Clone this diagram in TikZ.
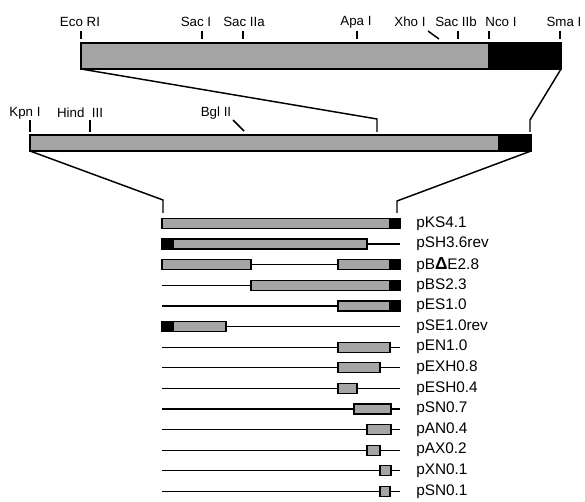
\documentclass[tikz,border=0pt]{standalone}
\usepackage{fontspec}
\setmainfont{Liberation Sans}
\usepackage{tikz}
\usepackage{xcolor}
\definecolor{stipple}{RGB}{165,165,165}

\tikzset{
  mapbar/.style={draw=black, line width=1.1pt, fill=stipple},
  blackend/.style={draw=black, line width=1.1pt, fill=black},
  insert/.style={draw=black, line width=0.9pt, fill=stipple},
  vector/.style={line width=0.9pt},
  zoomline/.style={line width=1.1pt},
  sitetick/.style={line width=1.1pt},
  sitelabel/.style={inner sep=0.75pt, font=\fontsize{10}{12}\selectfont},
  clonelabel/.style={anchor=west, inner sep=0.75pt, font=\fontsize{11.5}{13}\selectfont}
}

\begin{document}
\begin{tikzpicture}[x=0.75pt,y=0.75pt,yscale=-1,xscale=1]
\useasboundingbox (0,0) rectangle (585,502);

%Shape: Rectangle [top map]
\draw [mapbar] (81,43) rectangle (489,69) ;
\draw [blackend] (489,43) rectangle (561,69) ;
\coordinate (top-sw) at (81,69);
\coordinate (top-se) at (561,69);

% Text Node
\draw (80,22) node [sitelabel] (ecori) {Eco RI};
\draw [sitetick] (81,31) -- (81,39) ;
% Text Node
\draw (196,22) node [sitelabel] (saci) {Sac I};
\draw [sitetick] (202,31) -- (202,39) ;
% Text Node
\draw (244,22) node [sitelabel] (sacIIa) {Sac IIa};
\draw [sitetick] (243,31) -- (243,39) ;
% Text Node
\draw (356,22) node [sitelabel] (apai) {Apa I};
\draw [sitetick] (357,31) -- (357,39) ;
% Text Node
\draw (410,22) node [sitelabel] (xhoi) {Xho I};
\draw [sitetick] (428,31) -- (439,39) ;
% Text Node
\draw (456,22) node [sitelabel] (sacIIb) {Sac IIb};
\draw [sitetick] (458,31) -- (458,39) ;
% Text Node
\draw (501,22) node [sitelabel] (ncoi) {Nco I};
\draw [sitetick] (489,31) -- (489,39) ;
% Text Node
\draw (564,22) node [sitelabel] (smai) {Sma I};
\draw [sitetick] (560,31) -- (560,39) ;

%Shape: Rectangle [middle map]
\draw [mapbar] (30,135) rectangle (499,151) ;
\draw [blackend] (499,135) rectangle (531,151) ;
\coordinate (mid-nw) at (377,119);
\coordinate (mid-ne) at (530,120);
\coordinate (mid-sw) at (30,151);
\coordinate (mid-se) at (531,151);

% Text Node
\draw (25,113) node [sitelabel] (kpni) {Kpn I};
\draw [sitetick] (30,120) -- (30,132) ;
% Text Node
\draw (80,113) node [sitelabel] (hindIII) {Hind\ \ III};
\draw [sitetick] (90,120) -- (90,132) ;
% Text Node
\draw (216,113) node [sitelabel] (bglII) {Bgl II};
\draw [sitetick] (233,120) -- (244,131) ;

%Straight Lines [top map to middle map]
\draw [zoomline] (top-sw) -- (mid-nw) -- ++(0,13) ;
\draw [zoomline] (top-se) -- (mid-ne) -- ++(0,12) ;

%Straight Lines [middle map to clones]
\coordinate (cl-w) at (163,200);
\coordinate (cl-e) at (397,201);
\draw [zoomline] (mid-sw) -- (cl-w) -- ++(0,13) ;
\draw [zoomline] (mid-se) -- (cl-e) -- ++(0,12) ;

% pKS4.1
\draw [insert] (162,218.5) rectangle (390,228.5) ;
\draw [blackend] (390,218.5) rectangle (400,228.5) ;
\draw (415,223.5) node [clonelabel] (pKS) {pKS4.1};
% pSH3.6rev
\draw [vector] (367,244.1) -- (400,244.1) ;
\draw [blackend] (162,239.1) rectangle (173,249.1) ;
\draw [insert] (173,239.1) rectangle (367,249.1) ;
\draw (415,244.1) node [clonelabel] (pSH) {pSH3.6rev};
% pBdE2.8
\draw [vector] (251,264.7) -- (338,264.7) ;
\draw [insert] (162,259.7) rectangle (251,269.7) ;
\draw [insert] (338,259.7) rectangle (390,269.7) ;
\draw [blackend] (390,259.7) rectangle (400,269.7) ;
\draw (415,264.7) node [clonelabel] (pBdE) {pB{\fontsize{13}{13}\selectfont\textbf{Δ}}E2.8};
% pBS2.3
\draw [vector] (162,285.3) -- (251,285.3) ;
\draw [insert] (251,280.3) rectangle (390,290.3) ;
\draw [blackend] (390,280.3) rectangle (400,290.3) ;
\draw (415,285.3) node [clonelabel] (pBS) {pBS2.3};
% pES1.0
\draw [vector] (162,305.9) -- (338,305.9) ;
\draw [insert] (338,300.9) rectangle (390,310.9) ;
\draw [blackend] (390,300.9) rectangle (400,310.9) ;
\draw (415,305.9) node [clonelabel] (pES) {pES1.0};
% pSE1.0rev
\draw [vector] (226,326.5) -- (400,326.5) ;
\draw [blackend] (162,321.5) rectangle (173,331.5) ;
\draw [insert] (173,321.5) rectangle (226,331.5) ;
\draw (415,326.5) node [clonelabel] (pSE) {pSE1.0rev};
% pEN1.0
\draw [vector] (162,347.1) -- (400,347.1) ;
\draw [insert] (338,342.1) rectangle (390,352.1) ;
\draw (415,347.1) node [clonelabel] (pEN) {pEN1.0};
% pEXH0.8
\draw [vector] (162,367.7) -- (400,367.7) ;
\draw [insert] (338,362.7) rectangle (380,372.7) ;
\draw (415,367.7) node [clonelabel] (pEXH) {pEXH0.8};
% pESH0.4
\draw [vector] (162,388.3) -- (400,388.3) ;
\draw [insert] (338,383.3) rectangle (357,393.3) ;
\draw (415,388.3) node [clonelabel] (pESH) {pESH0.4};
% pSN0.7
\draw [vector] (162,408.9) -- (400,408.9) ;
\draw [insert] (354,403.9) rectangle (391,413.9) ;
\draw (415,408.9) node [clonelabel] (pSNa) {pSN0.7};
% pAN0.4
\draw [vector] (162,429.5) -- (400,429.5) ;
\draw [insert] (367,424.5) rectangle (391,434.5) ;
\draw (415,429.5) node [clonelabel] (pAN) {pAN0.4};
% pAX0.2
\draw [vector] (162,450.1) -- (400,450.1) ;
\draw [insert] (367,445.1) rectangle (380,455.1) ;
\draw (415,450.1) node [clonelabel] (pAX) {pAX0.2};
% pXN0.1
\draw [vector] (162,470.7) -- (400,470.7) ;
\draw [insert] (380,465.7) rectangle (391,475.7) ;
\draw (415,470.7) node [clonelabel] (pXN) {pXN0.1};
% pSN0.1
\draw [vector] (162,491.3) -- (400,491.3) ;
\draw [insert] (380,486.3) rectangle (390,496.3) ;
\draw (415,491.3) node [clonelabel] (pSNb) {pSN0.1};

\end{tikzpicture}
\end{document}
